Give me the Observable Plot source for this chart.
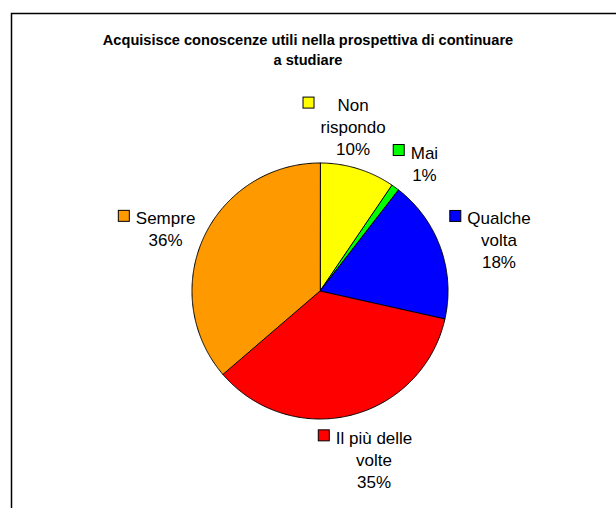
<!DOCTYPE html>
<html><head><meta charset="utf-8">
<script src="https://cdn.jsdelivr.net/npm/d3@7"></script>
<script src="https://cdn.jsdelivr.net/npm/@observablehq/plot@0.6"></script>
<style>html,body{margin:0;padding:0;background:#fff;overflow:hidden} svg{display:block}</style>
</head><body><div id="chart"></div>
<script>
// ---- data ----
const categories = ["Non rispondo", "Mai", "Qualche volta", "Il più delle volte", "Sempre"];
const values = [9.5, 1.0, 18.0, 35.2, 36.3];
const labelLines = [["Non", "rispondo"], ["Mai"], ["Qualche", "volta"], ["Il più delle", "volte"], ["Sempre"]];
const colors = ["#FFFF00", "#00FF00", "#0000FF", "#FF0000", "#FF9900"];
const title = "Acquisisce conoscenze utili nella prospettiva di continuare\na studiare";

// ---- layout ----
const W = 616, H = 508, CX = 319.5, CY = 290.5, R = 128;
const FONT = "Liberation Sans, Arial, Helvetica, sans-serif";
const LABEL_SIZE = 17, LINE_H = 22, MARK = 11, GAP = 6, PAD = 13;

const arcs = d3.pie().sort(null).value(d => d)(values);

// slice polygons in unit coordinates (x = sin a, y = -cos a)
const rows = [];
arcs.forEach((a, i) => {
  const cat = categories[i];
  rows.push({cat, x: 0, y: 0});
  const n = Math.max(2, Math.ceil((a.endAngle - a.startAngle) / (Math.PI / 360)));
  for (let k = 0; k <= n; k++) {
    const t = a.startAngle + (a.endAngle - a.startAngle) * k / n;
    rows.push({cat, x: Math.sin(t), y: -Math.cos(t)});
  }
});

// text measurement
const ctx = document.createElement("canvas").getContext("2d");
ctx.font = `${LABEL_SIZE}px ${FONT}`;
const measure = s => ctx.measureText(s).width;

// label boxes in pixels
const boxes = arcs.map((a, i) => {
  const lines = [...labelLines[i], Math.round(values[i] / d3.sum(values) * 100) + "%"];
  const tw = d3.max(lines, measure);
  const bw = MARK + GAP + tw, bh = lines.length * LINE_H;
  const m = (a.startAngle + a.endAngle) / 2;
  const dx = Math.sin(m), dy = -Math.cos(m);
  const cx = CX + dx * (R + PAD) + dx * bw / 2;
  const cy = CY + dy * (R + PAD) + dy * Math.abs(dy) * bh / 2;
  return {i, lines, tw, bw, bh, dx, dy, cx, cy};
});
// simple collision avoidance between neighbours
for (let i = 0; i < boxes.length; i++) {
  const a = boxes[i], b = boxes[(i + 1) % boxes.length];
  const ox = Math.min(a.cx + a.bw / 2, b.cx + b.bw / 2) - Math.max(a.cx - a.bw / 2, b.cx - b.bw / 2);
  const oy = Math.min(a.cy + a.bh / 2, b.cy + b.bh / 2) - Math.max(a.cy - a.bh / 2, b.cy - b.bh / 2);
  if (ox > -4 && oy > 0) {
    const mover = Math.abs(a.dx) < Math.abs(b.dx) ? a : b;
    const other = mover === a ? b : a;
    const s = Math.sign(mover.cx - other.cx) || -1;
    mover.cx += s * (ox + 8);
  }
}
const toX = px => (px - CX) / R, toY = py => (py - CY) / R;
const texts = boxes.map(b => ({
  x: toX(b.cx - b.bw / 2 + MARK + GAP + b.tw / 2),
  y: toY(b.cy),
  text: b.lines.join("\n")
}));
const marks = boxes.map(b => {
  const left = b.cx - b.bw / 2, top = b.cy - b.bh / 2 + LINE_H / 2 - MARK / 2 - 1;
  return {cat: categories[b.i], x1: toX(left), x2: toX(left + MARK), y1: toY(top), y2: toY(top + MARK)};
});

const chart = Plot.plot({
  width: W, height: H,
  marginLeft: 11, marginTop: 13, marginRight: -4, marginBottom: -4,
  style: {fontFamily: FONT, background: "#fff"},
  x: {domain: [-1, 1], range: [CX - R, CX + R], axis: null},
  y: {domain: [-1, 1], range: [CY - R, CY + R], axis: null},
  color: {domain: categories, range: colors, type: "ordinal"},
  marks: [
    Plot.frame({stroke: "#000", strokeWidth: 1.5}),
    Plot.line(rows, {x: "x", y: "y", z: "cat", fill: "cat", stroke: "#000", strokeWidth: 1, curve: "linear-closed"}),
    Plot.rect(marks, {x1: "x1", x2: "x2", y1: "y1", y2: "y2", fill: "cat", stroke: "#000", strokeWidth: 1}),
    Plot.text(texts, {x: "x", y: "y", text: "text", fontSize: LABEL_SIZE, lineHeight: LINE_H / LABEL_SIZE,
      lineAnchor: "middle", textAnchor: "middle", fill: "#000"}),
    Plot.text([title], {frameAnchor: "top", dx: -8, dy: 35, text: d => d, fontSize: 14.6, fontWeight: "bold",
      lineHeight: 20 / 14.6, lineAnchor: "middle", textAnchor: "middle", fill: "#000"})
  ]
});
chart.setAttribute("overflow", "hidden");
chart.style.overflow = "hidden";
document.getElementById("chart").appendChild(chart);
</script>
</body></html>
